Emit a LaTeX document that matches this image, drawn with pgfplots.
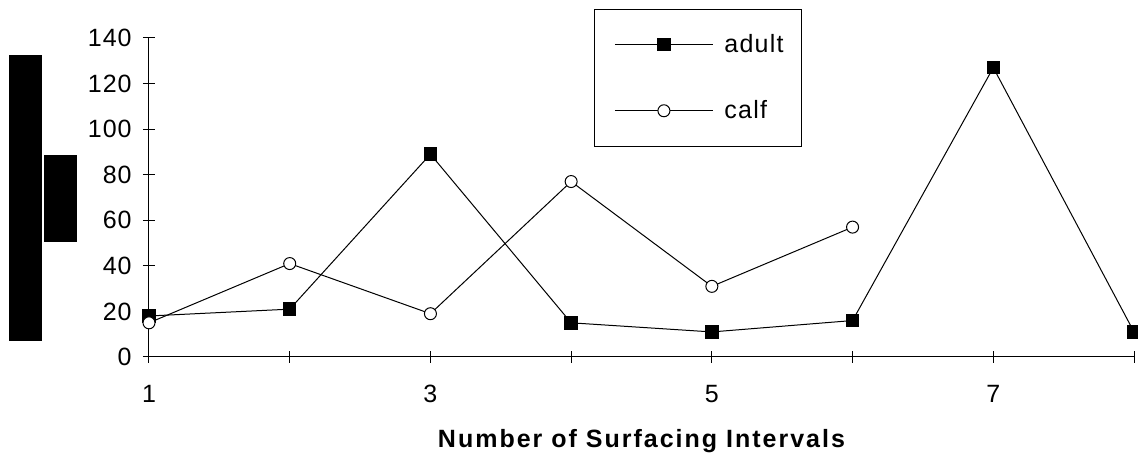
\documentclass[border=0pt]{standalone}
\usepackage{fontspec}
\setmainfont{Liberation Sans}
\usepackage{pgfplots}
\pgfplotsset{compat=1.18}
\begin{document}
\begin{tikzpicture}[x=1pt,y=1pt]
\useasboundingbox (-74.5,-50.5) rectangle (494.5,178.5);
\fill[black] (-70,8) rectangle (-53.5,151);
\fill[black] (-52.5,57.5) rectangle (-36,101);
\begin{axis}[
  scale only axis,
  width=492.5pt, height=159.5pt,
  xmin=1, xmax=8, ymin=0, ymax=140,
  axis lines*=left,
  axis line style={black, line width=0.5pt},
  clip=false,
  xtick={1,2,3,4,5,6,7,8},
  xticklabels={1,,3,,5,,7,},
  ytick={0,20,40,60,80,100,120,140},
  tick align=center,
  major tick length=6pt,
  tick style={black, line width=0.5pt},
  /pgf/number format/assume math mode=true,
  tick label style={font=\fontsize{12.5}{15}\selectfont\addfontfeature{LetterSpace=4}, inner sep=0pt},
  xticklabel style={anchor=base, yshift=-20pt},
  yticklabel style={anchor=east, xshift=-5.5pt},
  xlabel={Number of Surfacing Intervals},
  xlabel style={font=\fontsize{12.5}{15}\selectfont\bfseries\addfontfeature{LetterSpace=8},
    at={(axis description cs:0.5,0)}, anchor=base, yshift=-45.5pt, inner sep=0pt},
  legend style={draw=none, fill=none, at={(axis description cs:0.466,1.026)}, anchor=north west,
    font=\fontsize{12.5}{15}\selectfont\addfontfeature{LetterSpace=5}, nodes={inner sep=0pt}, row sep=22.5pt, column sep=5.5pt},
  legend cell align=left,
  legend image code/.code={\draw[mark repeat=2,mark phase=2] plot coordinates {(0pt,0pt)(24.5pt,0pt)(49pt,0pt)};},
]
\addplot[black, line width=0.5pt, mark=square*, mark size=3.1pt, mark options={solid, fill=black}]
  coordinates {(1,18)(2,21)(3,89)(4,15)(5,11)(6,16)(7,127)(8,11)};
\addplot[black, line width=0.5pt, mark=*, mark size=3pt, mark options={solid, fill=white}]
  coordinates {(1,15)(2,41)(3,19)(4,77)(5,31)(6,57)};
\legend{adult,calf}
\end{axis}
\draw[black, line width=0.5pt] (222.5,105) rectangle (326,173.5);
\end{tikzpicture}
\end{document}
